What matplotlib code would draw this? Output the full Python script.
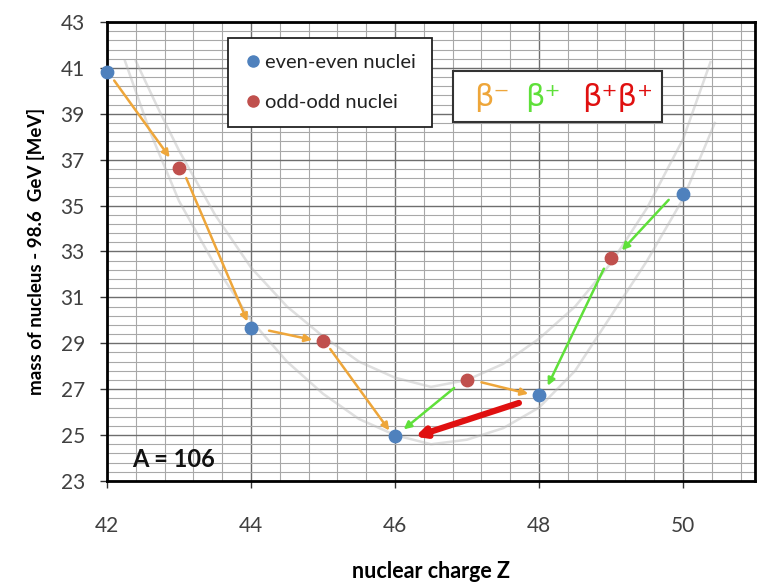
import numpy as np
import matplotlib
matplotlib.use("Agg")
import matplotlib.pyplot as plt
from matplotlib.patches import Rectangle
from matplotlib.lines import Line2D

plt.rcParams['font.family'] = ['Lato', 'DejaVu Sans']

# data
even_z = [42, 44, 46, 48, 50]
even_m = [40.8, 29.65, 24.95, 26.75, 35.5]
odd_z = [43, 45, 47, 49]
odd_m = [36.65, 29.1, 27.4, 32.7]

# faint guide curves
lower_z = [42.25, 42.6, 43, 43.5, 44, 44.5, 45, 45.5, 46, 46.5, 47, 47.5, 48, 48.5, 49, 49.5, 50, 50.44]
lower_m = [41.3, 38.2, 35.2, 32.4, 30.0, 28.2, 26.8, 25.7, 25.0, 24.6, 24.8, 25.3, 26.2, 27.8, 30.2, 32.6, 35.3, 38.6]
upper_z = [42.4, 42.7, 43, 43.5, 44, 44.5, 45, 45.5, 46, 46.5, 47, 47.5, 48, 48.5, 49, 49.5, 50, 50.38]
upper_m = [41.3, 39.3, 37.4, 34.6, 32.3, 30.6, 29.3, 28.2, 27.5, 27.1, 27.4, 28.1, 29.2, 30.6, 32.5, 34.9, 37.9, 41.25]

# decays: (from Z, from mass, to Z, to mass)
beta_minus = [(42.1, 40.45, 42.87, 37.1), (43.1, 36.2, 43.95, 29.95),
              (44.25, 29.55, 44.85, 29.15), (45.1, 28.75, 45.92, 25.2),
              (47.2, 27.3, 47.85, 26.8)]
beta_plus = [(49.8, 35.25, 49.15, 33.05), (48.9, 32.25, 48.12, 27.15),
             (46.82, 27.05, 46.12, 25.25)]
double_beta = [(47.72, 26.4, 46.28, 24.93)]

blue = '#4f81bd'
red = '#c0504d'
orange = '#eea63a'
green = '#5fe03a'
dred = '#e01010'

fig = plt.figure(figsize=(7.67, 5.85), dpi=100)
ax = fig.add_axes([0.1395, 0.1778, 0.845, 0.7846])

ax.set_xlim(42, 51)
ax.set_ylim(23, 43)
ax.set_xticks(np.arange(42, 51, 2))
ax.set_yticks(np.arange(23, 44, 2))
ax.set_xticks(np.arange(42, 51.01, 0.4), minor=True)
ax.set_yticks(np.arange(23, 43.01, 0.4), minor=True)
ax.grid(which='minor', color='#a8a8a8', lw=0.8)
ax.grid(which='major', color='#6e6e6e', lw=1.0)
ax.set_axisbelow(True)
ax.tick_params(which='minor', length=0)
ax.tick_params(which='major', length=5, width=1, color='#333333',
               labelsize=15, labelcolor='#404040', direction='out')
ax.tick_params(axis='x', pad=20)
ax.tick_params(axis='y', pad=11)
for s in ax.spines.values():
    s.set_linewidth(2)
    s.set_color('black')

ax.plot(lower_z, lower_m, color='#b8b8b8', lw=1.8, alpha=0.45, zorder=2)
ax.plot(upper_z, upper_m, color='#b8b8b8', lw=1.8, alpha=0.45, zorder=2)

for x0, y0, x1, y1 in beta_minus:
    ax.annotate('', xy=(x1, y1), xytext=(x0, y0),
                arrowprops=dict(arrowstyle='-|>', color=orange, lw=1.8,
                                mutation_scale=11, shrinkA=0, shrinkB=0), zorder=3)
for x0, y0, x1, y1 in beta_plus:
    ax.annotate('', xy=(x1, y1), xytext=(x0, y0),
                arrowprops=dict(arrowstyle='-|>', color=green, lw=1.8,
                                mutation_scale=11, shrinkA=0, shrinkB=0), zorder=3)
for x0, y0, x1, y1 in double_beta:
    ax.annotate('', xy=(x1, y1), xytext=(x0, y0),
                arrowprops=dict(arrowstyle='-|>', color=dred, lw=4.5,
                                mutation_scale=14, shrinkA=0, shrinkB=0), zorder=3)

ax.scatter(even_z, even_m, s=80, color=blue, zorder=5, clip_on=False)
ax.scatter(odd_z, odd_m, s=80, color=red, zorder=5, clip_on=False)

handles = [Line2D([], [], ls='none', marker='o', ms=8, color=blue),
           Line2D([], [], ls='none', marker='o', ms=8, color=red)]
leg = ax.legend(handles, ['even-even nuclei', 'odd-odd nuclei'],
                loc='upper left', bbox_to_anchor=(0.187, 0.966),
                fancybox=False, edgecolor='#222222', framealpha=1,
                fontsize=14.5, labelspacing=1.15, handletextpad=0.15,
                handlelength=0.9, borderpad=0.8, borderaxespad=0)
leg.get_frame().set_linewidth(1.3)
leg.set_zorder(6)
for t in leg.get_texts():
    t.set_color('#222222')

ax.add_patch(Rectangle((0.534, 0.783), 0.323, 0.111, transform=ax.transAxes,
                       facecolor='white', edgecolor='#333333', lw=1.5, zorder=6))
ax.text(0.566, 0.836, 'β⁻', color=orange, fontsize=22, transform=ax.transAxes,
        ha='left', va='center', zorder=7, family=['DejaVu Sans'])
ax.text(0.645, 0.836, 'β⁺', color=green, fontsize=22, transform=ax.transAxes,
        ha='left', va='center', zorder=7, family=['DejaVu Sans'])
ax.text(0.733, 0.836, 'β⁺β⁺', color=dred, fontsize=22, transform=ax.transAxes,
        ha='left', va='center', zorder=7, family=['DejaVu Sans'])

ax.text(42.92, 23.95, 'A = 106', fontsize=17, fontweight='bold', ha='center',
        va='center', color='#111111', zorder=6)

ax.set_xlabel('nuclear charge Z', fontsize=15.5, fontweight='bold', labelpad=18)
ax.set_ylabel('mass of nucleus - 98.6  GeV [MeV]', fontsize=13.5,
              fontweight='bold', labelpad=11)

fig.savefig('out.png', dpi=100)
